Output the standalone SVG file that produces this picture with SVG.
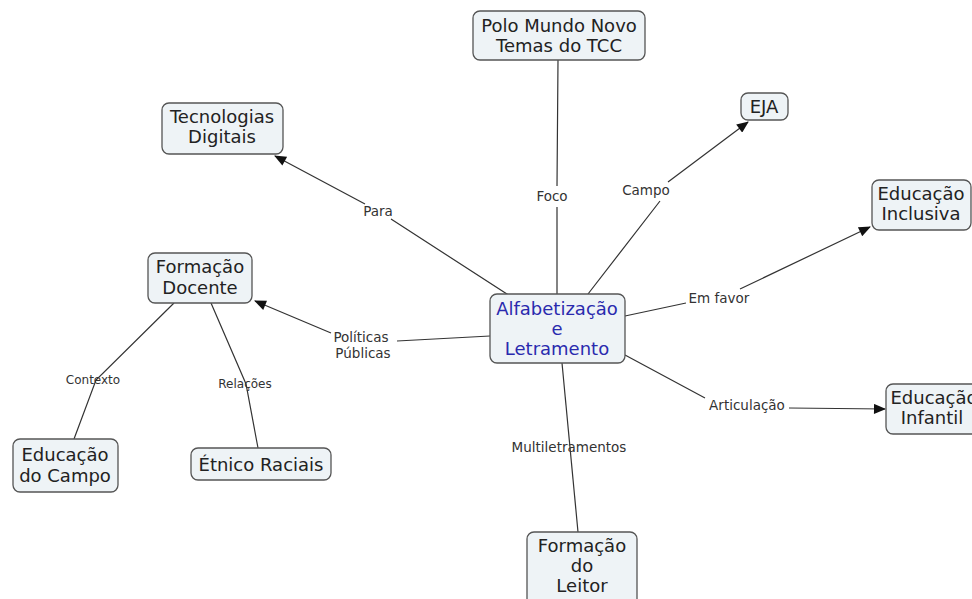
<svg xmlns="http://www.w3.org/2000/svg" width="972" height="599" viewBox="0 0 972 599">
<defs>
<marker id="arr" viewBox="0 0 12 10" refX="11" refY="5" markerWidth="13" markerHeight="10" markerUnits="userSpaceOnUse" orient="auto">
<path d="M0,0 L12,5 L0,10 Z" fill="#111"/>
</marker>
</defs>
<style>
.n rect{fill:#eef3f6;stroke:#555;stroke-width:1.3}
.n text{font-family:"DejaVu Sans",Verdana,sans-serif;font-size:18px;fill:#222;text-anchor:middle}
#central text{fill:#2a2aae}
.c path{fill:none;stroke:#333;stroke-width:1.2}
.c .a{marker-end:url(#arr)}
.l{font-family:"DejaVu Sans",Verdana,sans-serif;font-size:13.5px;fill:#333;text-anchor:middle}
.s{font-size:12px}
</style>
<rect width="972" height="599" fill="#fff"/>
<g id="connectors" class="c">
<path class="a" d="M510,296 L391,219 M365,204 L275,156"/>
<path d="M557,294 L557,207 M557,186 L558,60"/>
<path class="a" d="M588,294 L660,201 M668,182 L748,122"/>
<path class="a" d="M625,316 L686,303 M740,289 L870,227"/>
<path class="a" d="M490,336 L397,341 M331,333 L255,301"/>
<path class="a" d="M625,355 L705,398 M789,408 L885,409"/>
<path d="M562,363 L578,532"/>
<path d="M174,303 L96,380 L74,439"/>
<path d="M211,303 L246,384 L258,448"/>
</g>
<g id="labels">
<text class="l" x="378" y="216">Para</text>
<text class="l" x="552" y="201">Foco</text>
<text class="l" x="646" y="195">Campo</text>
<text class="l" x="719" y="303">Em favor</text>
<text class="l" x="361" y="342">Políticas</text>
<text class="l" x="363" y="358">Públicas</text>
<text class="l" x="747" y="410">Articulação</text>
<text class="l" x="569" y="452">Multiletramentos</text>
<text class="l s" x="93" y="384">Contexto</text>
<text class="l s" x="245" y="388">Relações</text>
</g>
<g id="central" class="n"><rect x="490" y="294" width="135" height="69" rx="7"/><text x="557" y="315">Alfabetização</text><text x="557" y="335">e</text><text x="557" y="355">Letramento</text></g>
<g id="polo" class="n"><rect x="473" y="11" width="172" height="49" rx="7"/><text x="559" y="32">Polo Mundo Novo</text><text x="559" y="52">Temas do TCC</text></g>
<g id="tecnologias" class="n"><rect x="162" y="103" width="121" height="51" rx="7"/><text x="222" y="123">Tecnologias</text><text x="222" y="143">Digitais</text></g>
<g id="eja" class="n"><rect x="741" y="93" width="47" height="27" rx="7"/><text x="764" y="113">EJA</text></g>
<g id="inclusiva" class="n"><rect x="872" y="180" width="99" height="50" rx="7"/><text x="921" y="200">Educação</text><text x="921" y="220">Inclusiva</text></g>
<g id="docente" class="n"><rect x="148" y="253" width="104" height="50" rx="7"/><text x="200" y="273">Formação</text><text x="200" y="294">Docente</text></g>
<g id="infantil" class="n"><rect x="886" y="384" width="100" height="50" rx="7"/><text x="934" y="404">Educação</text><text x="932" y="424">Infantil</text></g>
<g id="campo" class="n"><rect x="13" y="439" width="105" height="53" rx="7"/><text x="65" y="461">Educação</text><text x="65" y="482">do Campo</text></g>
<g id="etnico" class="n"><rect x="191" y="448" width="140" height="32" rx="7"/><text x="261" y="471">Étnico Raciais</text></g>
<g id="leitor" class="n"><rect x="527" y="532" width="110" height="80" rx="7"/><text x="582" y="552">Formação</text><text x="582" y="572">do</text><text x="582" y="592">Leitor</text></g>
</svg>
